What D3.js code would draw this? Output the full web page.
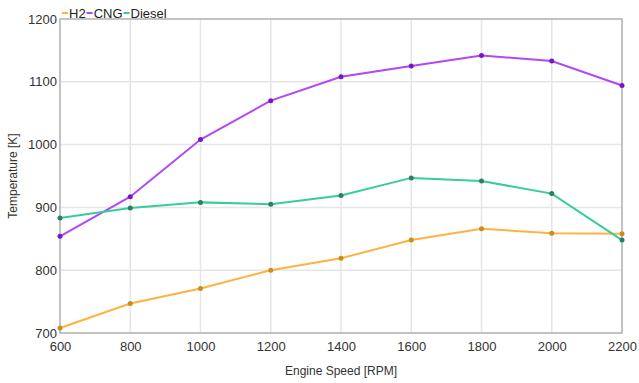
<!DOCTYPE html>
<html>
<head>
<meta charset="utf-8">
<script src="https://cdn.jsdelivr.net/npm/d3@7"></script>
<style>
  body { margin: 0; background: #fff; }
  svg { font-family: "Liberation Sans", Arial, sans-serif; }
</style>
</head>
<body>
<div id="chart"></div>
<script>
const speeds = [600, 800, 1000, 1200, 1400, 1600, 1800, 2000, 2200];
const h2 = [708, 747, 771, 800, 819, 848, 866, 859, 858];
const cng = [854, 917, 1008, 1070, 1108, 1125, 1142, 1133, 1094];
const diesel = [883, 899, 908, 905, 919, 947, 942, 922, 848];
const xTicks = [600, 800, 1000, 1200, 1400, 1600, 1800, 2000, 2200];
const yTicks = [700, 800, 900, 1000, 1100, 1200];

const series = [
    { name: 'H2', values: h2, color: '#ffb33f', marker: '#c98e1c' },
    { name: 'CNG', values: cng, color: '#b347f5', marker: '#7a17c4' },
    { name: 'Diesel', values: diesel, color: '#37cc9f', marker: '#2a8066' }
];

const width = 639, height = 383;
const margin = { top: 19, right: 17, bottom: 50, left: 60 };
const innerW = width - margin.left - margin.right;
const innerH = height - margin.top - margin.bottom;

const svg = d3.select('#chart').append('svg')
    .attr('width', width)
    .attr('height', height);

const chart = svg.append('g')
    .attr('transform', `translate(${margin.left}, ${margin.top})`);

const x = d3.scaleLinear().domain([600, 2200]).range([0, innerW]);
const y = d3.scaleLinear().domain([700, 1200]).range([innerH, 0]);

// grid
chart.append('g').selectAll('line.gx')
    .data(xTicks)
    .join('line')
    .attr('x1', d => x(d)).attr('x2', d => x(d))
    .attr('y1', 0).attr('y2', innerH)
    .attr('stroke', '#e6e6e6').attr('stroke-width', 1.5);

chart.append('g').selectAll('line.gy')
    .data(yTicks)
    .join('line')
    .attr('x1', 0).attr('x2', innerW)
    .attr('y1', d => y(d)).attr('y2', d => y(d))
    .attr('stroke', '#e6e6e6').attr('stroke-width', 1.5);

// frame
chart.append('rect')
    .attr('x', 0).attr('y', 0)
    .attr('width', innerW).attr('height', innerH)
    .attr('fill', 'none')
    .attr('stroke', '#b5b5b5')
    .attr('stroke-width', 1.5);

// axes
const xAxis = chart.append('g')
    .attr('transform', `translate(0, ${innerH})`)
    .call(d3.axisBottom(x).tickValues(xTicks).tickSize(0).tickPadding(6).tickFormat(d3.format('d')));
const yAxis = chart.append('g')
    .call(d3.axisLeft(y).tickValues(yTicks).tickSize(0).tickPadding(3).tickFormat(d3.format('d')));

[xAxis, yAxis].forEach(a => {
    a.select('.domain').remove();
    a.selectAll('text')
        .attr('fill', '#333')
        .attr('font-size', 13)
        .attr('font-family', '"Liberation Sans", Arial, sans-serif');
});
xAxis.selectAll('text').attr('dy', '0.9em');

// lines
const line = d3.line()
    .x((d, i) => x(speeds[i]))
    .y(d => y(d));

series.forEach(s => {
    chart.append('path')
        .datum(s.values)
        .attr('fill', 'none')
        .attr('stroke', s.color)
        .attr('stroke-width', 2)
        .attr('d', line);

    chart.append('g').selectAll('circle')
        .data(s.values)
        .join('circle')
        .attr('cx', (d, i) => x(speeds[i]))
        .attr('cy', d => y(d))
        .attr('r', 2.5)
        .attr('fill', s.marker);
});

// axis titles
svg.append('text')
    .attr('x', margin.left + innerW / 2)
    .attr('y', 375)
    .attr('text-anchor', 'middle')
    .attr('font-size', 12)
    .attr('fill', '#333')
    .text('Engine Speed [RPM]');

svg.append('text')
    .attr('transform', `translate(17, ${margin.top + innerH / 2}) rotate(-90)`)
    .attr('text-anchor', 'middle')
    .attr('font-size', 12)
    .attr('fill', '#333')
    .text('Temperature [K]');

// legend
const legend = svg.append('g').attr('transform', 'translate(62, 13)');
let lx = 0;
series.forEach(s => {
    legend.append('line')
        .attr('x1', lx).attr('x2', lx + 6)
        .attr('y1', 0).attr('y2', 0)
        .attr('stroke', s.color).attr('stroke-width', 2);
    const t = legend.append('text')
        .attr('x', lx + 7)
        .attr('y', 5)
        .attr('font-size', 13)
        .attr('fill', '#222')
        .text(s.name);
    lx += 7 + t.node().getComputedTextLength() + 1;
});
</script>
</body>
</html>
